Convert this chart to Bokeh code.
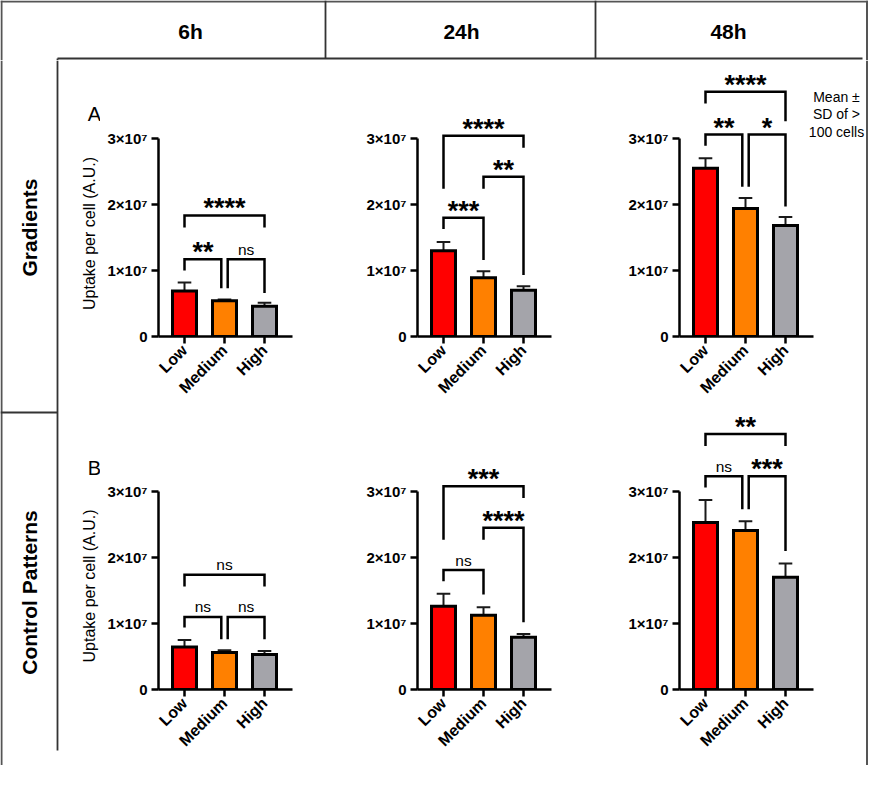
import math
from bokeh.plotting import figure
from bokeh.models import Range1d, FixedTicker
from bokeh.layouts import row, column
from bokeh.embed import file_html
from bokeh.resources import INLINE
from bokeh.core.properties import value

FONT = "Liberation Sans"

# ---------------- data ----------------
conditions = ["Low", "Medium", "High"]
times = ["6h", "24h", "48h"]
groups = ["Gradients", "Control Patterns"]
panel_letters = ["A", "B"]
bar_colors = ["#FF0000", "#FF8000", "#A4A4AA"]
y_tick_values = [0, 1, 2, 3]
y_tick_labels = ["0", "1×10⁷", "2×10⁷", "3×10⁷"]
y_axis_title = "Uptake per cell (A.U.)"
note_lines = ["Mean ±", "SD of >", "100 cells"]

# uptake per cell, in units of 1e7 A.U. (mean and SD)
grad_6h_mean = [0.69, 0.54, 0.46]
grad_6h_sd = [0.13, 0.02, 0.05]
grad_24h_mean = [1.30, 0.89, 0.70]
grad_24h_sd = [0.13, 0.10, 0.06]
grad_48h_mean = [2.55, 1.94, 1.68]
grad_48h_sd = [0.15, 0.16, 0.13]

ctrl_6h_mean = [0.645, 0.56, 0.53]
ctrl_6h_sd = [0.105, 0.035, 0.055]
ctrl_24h_mean = [1.26, 1.125, 0.79]
ctrl_24h_sd = [0.19, 0.12, 0.05]
ctrl_48h_mean = [2.53, 2.41, 1.70]
ctrl_48h_sd = [0.34, 0.14, 0.21]

# significance brackets: (left x, right x, bracket top, left leg end, right leg end, label)
grad_6h_brackets = [(0, 2, 1.835, 1.65, 1.65, "****"),
                    (0, 0.92, 1.17, 1.00, 0.73, "**"),
                    (1.08, 2, 1.17, 0.73, 0.66, "ns")]
grad_24h_brackets = [(0, 2, 3.04, 2.24, 2.86, "****"),
                     (1, 2, 2.42, 2.24, 0.93, "**"),
                     (0, 1, 1.80, 1.63, 1.16, "***")]
grad_48h_brackets = [(0, 2, 3.71, 3.53, 3.26, "****"),
                     (0, 0.92, 3.06, 2.89, 2.27, "**"),
                     (1.08, 2, 3.06, 2.27, 1.97, "*")]
ctrl_6h_brackets = [(0, 2, 1.74, 1.56, 1.56, "ns"),
                    (0, 0.92, 1.10, 0.94, 0.76, "ns"),
                    (1.08, 2, 1.10, 0.76, 0.76, "ns")]
ctrl_24h_brackets = [(0, 2, 3.08, 2.27, 2.90, "***"),
                     (1, 2, 2.45, 2.27, 1.02, "****"),
                     (0, 1, 1.81, 1.64, 1.44, "ns")]
ctrl_48h_brackets = [(0, 2, 3.87, 3.69, 3.69, "**"),
                     (0, 0.92, 3.23, 3.06, 2.73, "ns"),
                     (1.08, 2, 3.23, 2.73, 2.10, "***")]

means = [[grad_6h_mean, grad_24h_mean, grad_48h_mean],
         [ctrl_6h_mean, ctrl_24h_mean, ctrl_48h_mean]]
sds = [[grad_6h_sd, grad_24h_sd, grad_48h_sd],
       [ctrl_6h_sd, ctrl_24h_sd, ctrl_48h_sd]]
brackets = [[grad_6h_brackets, grad_24h_brackets, grad_48h_brackets],
            [ctrl_6h_brackets, ctrl_24h_brackets, ctrl_48h_brackets]]

# ---------------- layout constants ----------------
W = 868
HEAD_H = 60
ROW_H = [352, 353]
BODY_H = sum(ROW_H)
BOT_H = 3
SIDE_W = 100
COL_W = [225, 270, 270]
RSTRIP_W = W - SIDE_W - sum(COL_W)
AXIS_L = [58, 92, 84]
PLOT_B = 76
PX_X = 40.0   # px per category
PX_Y = 66.0   # px per 1e7
X0 = -0.65
X_END = 2.7
BOX_C = "#555555"
LINE_C = "#333333"


def blank(width, height):
    f = figure(width=width, height=height, x_range=Range1d(0, width), y_range=Range1d(0, height),
               min_border=0, x_axis_type=None, y_axis_type=None, toolbar_location=None,
               output_backend="svg")
    f.outline_line_color = None
    f.background_fill_color = "white"
    f.border_fill_color = "white"
    return f


def panel(ri, ci):
    fw, fh = COL_W[ci], ROW_H[ri]
    frame_w = fw - AXIS_L[ci]
    frame_h = fh - PLOT_B
    p = figure(width=fw, height=fh, output_backend="svg", toolbar_location=None,
               x_range=Range1d(X0, X0 + frame_w / PX_X), y_range=Range1d(0, frame_h / PX_Y),
               min_border_left=AXIS_L[ci], min_border_right=0, min_border_top=0,
               min_border_bottom=PLOT_B)
    p.outline_line_color = None
    p.xgrid.grid_line_color = None
    p.ygrid.grid_line_color = None
    p.background_fill_color = "white"
    p.border_fill_color = "white"

    xs = [0, 1, 2]
    m = means[ri][ci]
    s = sds[ri][ci]
    tops = [a + b for a, b in zip(m, s)]
    p.segment(x0=xs, y0=m, x1=xs, y1=tops, line_color="#1a1a1a", line_width=2)
    p.segment(x0=[x - 0.17 for x in xs], y0=tops, x1=[x + 0.17 for x in xs], y1=tops,
              line_color="#1a1a1a", line_width=2)
    p.vbar(x=xs, top=m, bottom=0, width=0.6, fill_color=bar_colors, line_color="black",
           line_width=3, line_join="miter")

    br = brackets[ri][ci]
    p.multi_line(xs=[[b[0], b[0], b[1], b[1]] for b in br],
                 ys=[[b[3], b[2], b[2], b[4]] for b in br],
                 line_color="black", line_width=2.5, line_join="miter")
    stars = [b for b in br if b[5] != "ns"]
    ns = [b for b in br if b[5] == "ns"]
    if stars:
        p.text(x=[(b[0] + b[1]) / 2 for b in stars], y=[b[2] + 7 / PX_Y for b in stars],
               text=[b[5] for b in stars], text_font=value(FONT), text_font_style="bold",
               text_font_size="27px", text_align="center", text_baseline="alphabetic",
               text_color="black")
    if ns:
        p.text(x=[(b[0] + b[1]) / 2 for b in ns], y=[b[2] + 10 / PX_Y for b in ns],
               text=[b[5] for b in ns], text_font=value(FONT), text_font_style="normal",
               text_font_size="15.5px", text_align="center", text_baseline="alphabetic",
               text_color="black")

    xa = p.xaxis[0]
    xa.ticker = FixedTicker(ticks=xs)
    xa.major_label_overrides = {i: c for i, c in enumerate(conditions)}
    xa.bounds = (X0, X_END)
    xa.major_label_orientation = math.pi / 4
    xa.minor_tick_line_color = None
    xa.major_tick_in = 0
    xa.major_tick_out = 7
    xa.axis_line_width = 2.5
    xa.major_tick_line_width = 2.5
    xa.major_label_text_font = FONT
    xa.major_label_text_font_style = "bold"
    xa.major_label_text_font_size = "16px"
    xa.major_label_text_color = "black"
    xa.major_label_standoff = 4

    ya = p.yaxis[0]
    ya.ticker = FixedTicker(ticks=y_tick_values)
    ya.major_label_overrides = {v: t for v, t in zip(y_tick_values, y_tick_labels)}
    ya.bounds = (0, 3)
    ya.minor_tick_line_color = None
    ya.major_tick_in = 0
    ya.major_tick_out = 7
    ya.axis_line_width = 2.5
    ya.major_tick_line_width = 2.5
    ya.major_label_text_font = FONT
    ya.major_label_text_font_style = "bold"
    ya.major_label_text_font_size = "15px"
    ya.major_label_text_color = "black"
    ya.major_label_standoff = 4

    if ri == 0 and ci == 2:
        p.text(x=[X0 + 157 / PX_X] * 3, y=[240 / PX_Y, 222.5 / PX_Y, 205 / PX_Y], text=note_lines,
               text_font=value(FONT), text_font_size="14px", text_align="center",
               text_baseline="middle", text_color="black")
    return p


# ---------------- frame pieces ----------------
header = blank(W, HEAD_H)
header.segment(x0=[0, 1, W - 1.5, 325, 595, 57, 57], y0=[HEAD_H - 1, 0, 0, 2, 2, 2, 0],
               x1=[W, 1, W - 1.5, 325, 595, 862, 57], y1=[HEAD_H - 1, HEAD_H, HEAD_H, HEAD_H, HEAD_H, 2, 2],
               line_color=[BOX_C, BOX_C, BOX_C, LINE_C, LINE_C, LINE_C, LINE_C],
               line_width=[2, 2, 2, 1.8, 1.8, 1.8, 1.8])
header.text(x=[190, 461, 728], y=[HEAD_H - 31] * 3, text=times, text_font=value(FONT),
            text_font_style="bold", text_font_size="21px", text_align="center",
            text_baseline="middle", text_color="black")

# left column: row titles, axis titles and panel letters
side = blank(SIDE_W, BODY_H)
side.segment(x0=[1, 57, 0], y0=[0, 15, BODY_H - ROW_H[0]], x1=[1, 57, 57],
             y1=[BODY_H, BODY_H, BODY_H - ROW_H[0]],
             line_color=[BOX_C, LINE_C, LINE_C], line_width=[2, 1.8, 1.8])
side.text(x=[29, 29], y=[538, 173], text=groups, angle=math.pi / 2, text_font=value(FONT),
          text_font_style="bold", text_font_size="21px", text_align="center",
          text_baseline="middle", text_color="black")
side.text(x=[89, 89], y=[532, 179.5], text=[y_axis_title, y_axis_title], angle=math.pi / 2,
          text_font=value(FONT), text_font_size="16px", text_align="center",
          text_baseline="middle", text_color="black")
side.text(x=[94, 94], y=[652, 298], text=panel_letters, text_font=value(FONT),
          text_font_size="20px", text_align="center", text_baseline="middle", text_color="black")

rstrip = blank(RSTRIP_W, BODY_H)
rstrip.segment(x0=[RSTRIP_W - 1.5], y0=[0], x1=[RSTRIP_W - 1.5], y1=[BODY_H], line_color=BOX_C,
               line_width=2)

bottom = blank(W, BOT_H)
bottom.segment(x0=[0, 1, W - 1.5], y0=[1.5, 1.5, 1.5], x1=[W, 1, W - 1.5], y1=[1.5, BOT_H, BOT_H],
               line_color=BOX_C, line_width=2)

panels = column(row(panel(0, 0), panel(0, 1), panel(0, 2)),
                row(panel(1, 0), panel(1, 1), panel(1, 2)))

layout = column(header, row(side, panels, rstrip), bottom)

open("out.html", "w").write(file_html(layout, INLINE))
